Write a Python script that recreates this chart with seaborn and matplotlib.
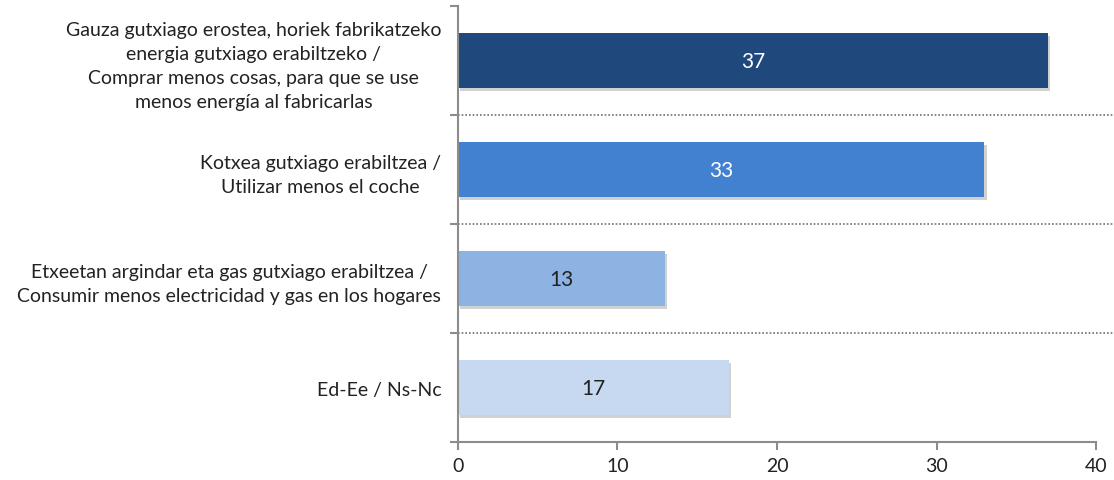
import matplotlib
matplotlib.use("Agg")
import matplotlib.pyplot as plt
import matplotlib.patheffects as pe
import seaborn as sns
import pandas as pd

# ── data ────────────────────────────────────────────────────────────────────
categories = [
    "Gauza gutxiago erostea, horiek fabrikatzeko\nenergia gutxiago erabiltzeko /\n"
    "Comprar menos cosas, para que se use\nmenos energía al fabricarlas",
    "Kotxea gutxiago erabiltzea /\nUtilizar menos el coche",
    "Etxeetan argindar eta gas gutxiago erabiltzea /\nConsumir menos electricidad y gas en los hogares",
    "Ed-Ee / Ns-Nc",
]
values = [37, 33, 13, 17]
bar_colors = ["#1F497D", "#4181D0", "#8DB3E2", "#C6D9F1"]
label_colors = ["white", "white", "#1a1a1a", "#1a1a1a"]
x_ticks = [0, 10, 20, 30, 40]

# ── stil ────────────────────────────────────────────────────────────────────
sns.set_style("white")
plt.rcParams["font.family"] = ["Lato", "DejaVu Sans"]
AXIS_CLR = "#8C8C8C"
TXT_CLR = "#222222"

df = pd.DataFrame({"cat": categories, "val": values})

fig = plt.figure(figsize=(11.14, 4.81), dpi=100)
ax = fig.add_axes([0.411, 0.079, 0.573, 0.906])

sns.barplot(data=df, y="cat", x="val", hue="cat", palette=bar_colors,
            orient="h", width=0.5, legend=False, ax=ax, saturation=1)

shadow = [pe.SimplePatchShadow(offset=(1.5, -2), shadow_rgbFace="#999999", alpha=0.45),
          pe.Normal()]
for patch in ax.patches:
    patch.set_path_effects(shadow)
    patch.set_edgecolor("none")

for i, (v, c) in enumerate(zip(values, label_colors)):
    ax.text(v / 2, i, str(v), ha="center", va="center", fontsize=15,
            color=c if c == "white" else TXT_CLR)

ax.set_xlim(0, 40)
ax.set_ylim(len(categories) - 0.5, -0.5)
ax.set_xticks(x_ticks)
ax.set_xlabel("")
ax.set_ylabel("")

# kategori sinirlari: noktali cizgiler
for b in [0.5, 1.5, 2.5]:
    ax.axhline(b, xmin=0, xmax=1.03, color="#6F6F6F", lw=1.2, ls=(0, (1, 1.2)),
               clip_on=False)
ax.set_yticks([-0.5, 0.5, 1.5, 2.5, 3.5], minor=True)

for sp in ["top", "right"]:
    ax.spines[sp].set_visible(False)
for sp in ["left", "bottom"]:
    ax.spines[sp].set_color(AXIS_CLR)
    ax.spines[sp].set_linewidth(1.5)

ax.tick_params(axis="y", which="major", length=0, pad=12, labelsize=14,
               labelcolor=TXT_CLR)
ax.tick_params(axis="y", which="minor", length=6, width=1.5, color=AXIS_CLR,
               direction="out", left=True)
ax.tick_params(axis="x", length=6, width=1.5, color=AXIS_CLR, direction="out",
               bottom=True, labelsize=14, labelcolor=TXT_CLR, pad=5)
for lbl in ax.get_yticklabels():
    lbl.set_multialignment("center")
    lbl.set_linespacing(1.5)

fig.savefig("out.png", dpi=100)
